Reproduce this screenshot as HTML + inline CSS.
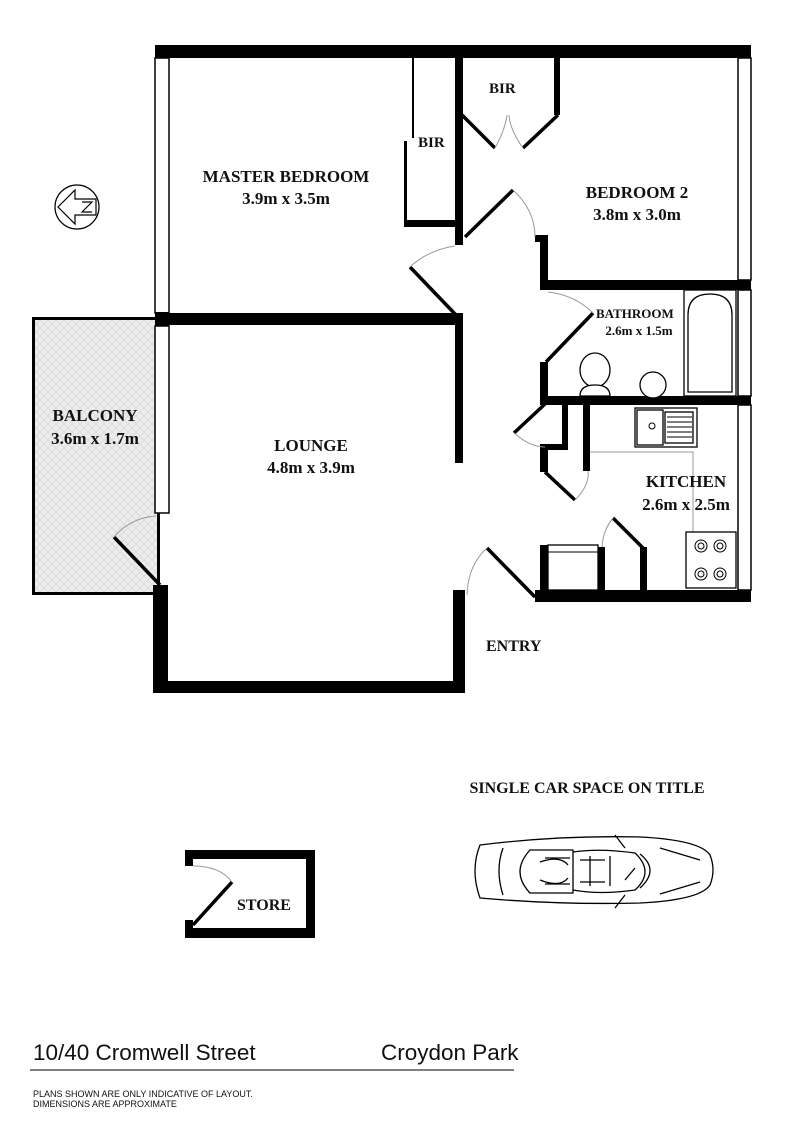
<!DOCTYPE html>
<html><head><meta charset="utf-8"><style>
html,body{margin:0;padding:0;background:#fff;}
svg{display:block}
text{font-family:"Liberation Serif",serif;font-weight:bold;fill:#111}
.s{font-family:"Liberation Sans",sans-serif;font-weight:normal}
</style></head><body>
<svg width="800" height="1132" viewBox="0 0 800 1132" xmlns="http://www.w3.org/2000/svg">
<defs>
<pattern id="h" width="8" height="8" patternUnits="userSpaceOnUse">
<rect width="8" height="8" fill="#ececec"/>
<path d="M0 0L8 8M8 0L0 8" stroke="#d6d6d6" stroke-width="0.7"/>
</pattern>
</defs>
<rect x="33.5" y="318.5" width="125" height="275" fill="url(#h)" stroke="#000" stroke-width="3"/>
<g fill="#000">
<rect x="155" y="45" width="596" height="13"/>
<rect x="155" y="58" width="14" height="255" fill="#fff" stroke="#000" stroke-width="1.5"/>
<rect x="155" y="312" width="14" height="14"/>
<rect x="155" y="326" width="14" height="187" fill="#fff" stroke="#000" stroke-width="1.5"/>
<rect x="153" y="585" width="15" height="108"/>
<rect x="168" y="313" width="295" height="12"/>
<rect x="155" y="681" width="310" height="12"/>
<rect x="453" y="590" width="12" height="103"/>
<rect x="455" y="315" width="8" height="148"/>
<rect x="455" y="58" width="8" height="187"/>
<rect x="412" y="58" width="2" height="80"/>
<rect x="404" y="141" width="3" height="85"/>
<rect x="404" y="220" width="52" height="7"/>
<rect x="554" y="58" width="6" height="57"/>
<rect x="540" y="280" width="211" height="10"/>
<rect x="540" y="235" width="8" height="55"/>
<rect x="535" y="235" width="13" height="7"/>
<rect x="738" y="58" width="13" height="222" fill="#fff" stroke="#000" stroke-width="1.5"/>
<rect x="540" y="362" width="8" height="43"/>
<rect x="540" y="396" width="211" height="9"/>
<rect x="738" y="290" width="13" height="106" fill="#fff" stroke="#000" stroke-width="1.5"/>
<rect x="738" y="405" width="13" height="185" fill="#fff" stroke="#000" stroke-width="1.5"/>
<rect x="562" y="405" width="6" height="45"/>
<rect x="540" y="444" width="28" height="6"/>
<rect x="540" y="444" width="8" height="28"/>
<rect x="583" y="405" width="7" height="66"/>
<rect x="535" y="590" width="216" height="12"/>
<rect x="540" y="545" width="8" height="45"/>
<rect x="598" y="547" width="7" height="43"/>
<rect x="640" y="547" width="7" height="43"/>
<rect x="185" y="850" width="130" height="9"/>
<rect x="306" y="850" width="9" height="88"/>
<rect x="185" y="928" width="130" height="10"/>
<rect x="185" y="850" width="8" height="16"/>
<rect x="185" y="920" width="8" height="18"/>
</g>
<g stroke="#000" stroke-width="3.5" fill="none">
<line x1="462" y1="115" x2="495" y2="148"/>
<line x1="558" y1="115" x2="523" y2="148"/>
<line x1="465" y1="237" x2="513" y2="190"/>
<line x1="410" y1="267" x2="456" y2="315"/>
<line x1="546" y1="362" x2="593" y2="313"/>
<line x1="514" y1="433" x2="545" y2="404"/>
<line x1="545" y1="472" x2="575" y2="500"/>
<line x1="487" y1="548" x2="535" y2="597"/>
<line x1="613" y1="518" x2="643" y2="548"/>
<line x1="114" y1="537" x2="160" y2="585"/>
<line x1="193" y1="925" x2="232" y2="882"/>
</g>
<g stroke="#999" stroke-width="1" fill="none">
<path d="M495 148 Q505 130 507 115"/>
<path d="M523 148 Q510 130 509 115"/>
<path d="M513 190 Q535 210 535 237"/>
<path d="M410 267 Q428 250 455 246"/>
<path d="M593 313 Q575 295 548 292"/>
<path d="M514 433 Q530 447 545 447"/>
<path d="M575 500 Q590 485 588 471"/>
<path d="M487 548 Q468 565 467 595"/>
<path d="M613 518 Q603 530 602 547"/>
<path d="M114 537 Q130 518 156 516"/>
<path d="M193 866 Q220 866 232 882"/>
<path d="M590 452 L693 452 L693 532"/>
</g>
<g stroke="#000" stroke-width="1.3" fill="#fff">
<rect x="684" y="290" width="52" height="106"/>
<path d="M688 392 L688 315 Q688 294 710 294 Q732 294 732 315 L732 392 Z"/>
<ellipse cx="595" cy="370" rx="15" ry="17"/>
<path d="M580 396 Q580 385 595 385 Q610 385 610 396 Z"/>
<circle cx="653" cy="385" r="13"/>
<rect x="635" y="408" width="62" height="39"/>
<rect x="637" y="410" width="26" height="35"/>
<rect x="665" y="412" width="28" height="31"/>
<rect x="548" y="545" width="50" height="45"/>
<rect x="686" y="532" width="50" height="56"/>
</g>
<g stroke="#000" stroke-width="1" fill="none">
<path d="M667 417h25M667 422h25M667 427h25M667 432h25M667 437h25"/>
<circle cx="652" cy="426" r="3"/>
<circle cx="701" cy="546" r="6"/><circle cx="701" cy="546" r="3"/>
<circle cx="720" cy="546" r="6"/><circle cx="720" cy="546" r="3"/>
<circle cx="701" cy="574" r="6"/><circle cx="701" cy="574" r="3"/>
<circle cx="720" cy="574" r="6"/><circle cx="720" cy="574" r="3"/>
<line x1="548" y1="552" x2="598" y2="552"/>
</g>
<g stroke="#000" stroke-width="1.2" fill="none">
<circle cx="77" cy="207" r="22"/>
<path d="M58 207 L75 190 L75 199 L96 199 L96 215 L75 215 L75 224 Z"/>
<path d="M82 202 L92 202 L82 212 L92 212"/>
</g>
<g stroke="#000" stroke-width="1.3" fill="none">
<path d="M480 845 Q470 870 480 898 Q560 905 640 903 Q700 900 710 885 Q716 870 710 855 Q700 840 640 837 Q560 835 480 845 Z"/>
<path d="M503 848 Q495 870 503 895"/>
<path d="M530 850 Q510 872 530 893 L573 893 L573 850 Z"/>
<path d="M573 852 Q600 848 635 853 Q655 872 635 890 Q600 895 573 890"/>
<path d="M640 854 Q660 870 640 888"/>
<path d="M660 848 L700 860 M660 894 L700 882"/>
<path d="M580 860h25M580 882h25M540 862 Q560 855 568 865 M540 880 Q560 888 568 878"/>
<path d="M545 858h25M545 884h25M590 856v30M610 856v30"/>
<path d="M615 835 L625 848 M615 908 L625 895 M625 880 L635 868"/>
</g>
<text x="489" y="93" font-size="15">BIR</text>
<text x="418" y="147" font-size="15">BIR</text>
<text x="286" y="182" font-size="17" text-anchor="middle">MASTER BEDROOM</text>
<text x="286" y="204" font-size="17" text-anchor="middle">3.9m x 3.5m</text>
<text x="637" y="198" font-size="17" text-anchor="middle">BEDROOM 2</text>
<text x="637" y="220" font-size="17" text-anchor="middle">3.8m x 3.0m</text>
<text x="596" y="318" font-size="13">BATHROOM</text>
<text x="639" y="335" font-size="13" text-anchor="middle">2.6m x 1.5m</text>
<text x="686" y="487" font-size="17" text-anchor="middle">KITCHEN</text>
<text x="686" y="510" font-size="17" text-anchor="middle">2.6m x 2.5m</text>
<text x="311" y="451" font-size="17" text-anchor="middle">LOUNGE</text>
<text x="311" y="473" font-size="17" text-anchor="middle">4.8m x 3.9m</text>
<text x="95" y="421" font-size="17" text-anchor="middle">BALCONY</text>
<text x="95" y="444" font-size="17" text-anchor="middle">3.6m x 1.7m</text>
<text x="486" y="651" font-size="16">ENTRY</text>
<text x="587" y="793" font-size="16" text-anchor="middle">SINGLE CAR SPACE ON TITLE</text>
<text x="237" y="910" font-size="16">STORE</text>
<text class="s" x="33" y="1060" font-size="22.5">10/40 Cromwell Street</text>
<text class="s" x="381" y="1060" font-size="22.5">Croydon Park</text>
<line x1="30" y1="1070" x2="514" y2="1070" stroke="#000" stroke-width="1"/>
<text class="s" x="33" y="1097" font-size="9">PLANS SHOWN ARE ONLY INDICATIVE OF LAYOUT.</text>
<text class="s" x="33" y="1107" font-size="9">DIMENSIONS ARE APPROXIMATE</text>
</svg>
</body></html>
